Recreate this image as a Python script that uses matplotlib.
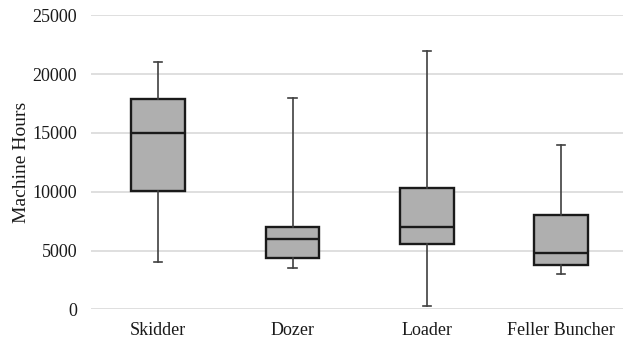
import matplotlib
matplotlib.use("Agg")
import matplotlib.pyplot as plt

# values
machines = ["Skidder", "Dozer", "Loader", "Feller Buncher"]
whisker_low = [4000, 3500, 300, 3000]
q1 = [10100, 4400, 5550, 3750]
median = [15000, 6000, 7000, 4750]
q3 = [17900, 7000, 10300, 8000]
whisker_high = [21000, 18000, 22000, 14000]
yticks = [0, 5000, 10000, 15000, 20000, 25000]

plt.rcParams['font.family'] = ['Liberation Serif', 'DejaVu Serif']

fig = plt.figure(figsize=(6.23, 3.42), dpi=100)
ax = fig.add_axes([91 / 623, 1 - 309.3 / 342, 532 / 623, (309.3 - 15.3) / 342])

stats = []
for i, name in enumerate(machines):
    stats.append({"label": name, "whislo": whisker_low[i], "q1": q1[i],
                  "med": median[i], "q3": q3[i], "whishi": whisker_high[i],
                  "fliers": []})

ax.bxp(stats, positions=range(len(machines)), widths=0.4, patch_artist=True,
       showfliers=False,
       boxprops=dict(facecolor="#afafaf", edgecolor="#1a1a1a", linewidth=1.7),
       medianprops=dict(color="#1a1a1a", linewidth=1.7),
       whiskerprops=dict(color="#404040", linewidth=1.2),
       capprops=dict(color="#404040", linewidth=1.2), capwidths=0.06)

ax.set_xlim(-0.5, 3.46)
ax.set_ylim(0, 25000)
ax.set_yticks(yticks)
ax.set_yticklabels([str(v) for v in yticks])
ax.grid(axis="y", color="#d9d9d9", linewidth=1.2)
ax.set_axisbelow(True)
for s in ax.spines.values():
    s.set_visible(False)
ax.tick_params(length=0, labelsize=13, colors="#1a1a1a")
ax.tick_params(axis="y", pad=10)
ax.tick_params(axis="x", pad=9)
ax.set_ylabel("Machine Hours", fontsize=14, color="#1a1a1a", labelpad=2)

fig.savefig("out.png", dpi=100)
